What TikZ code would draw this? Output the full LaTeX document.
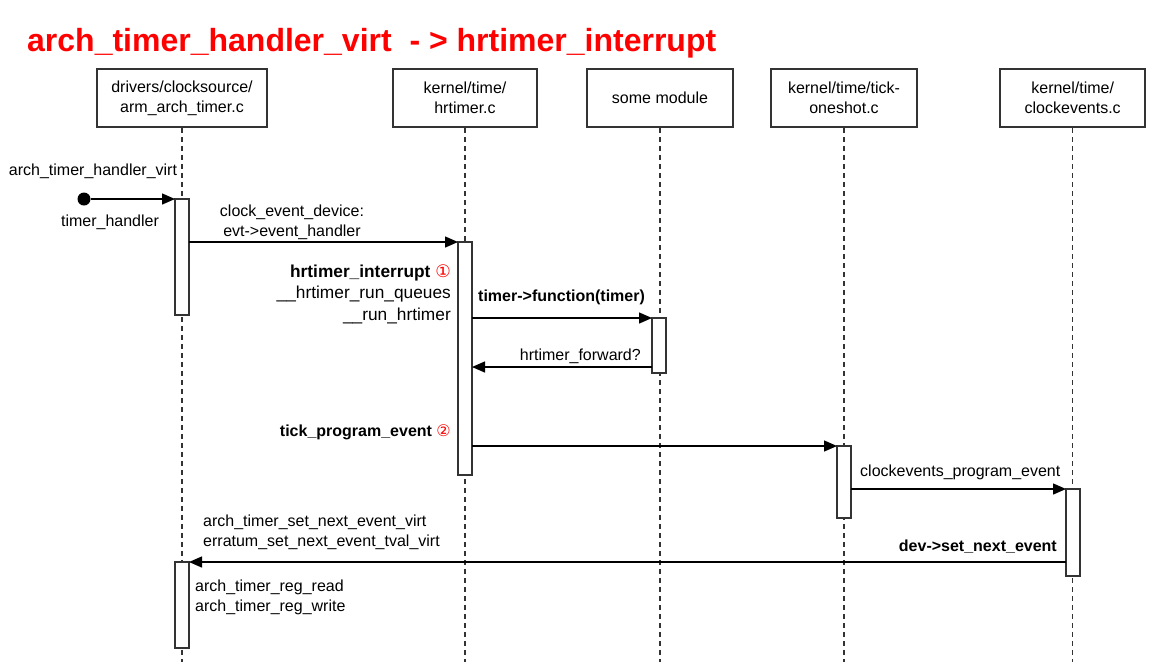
\documentclass[tikz,border=0pt]{standalone}
\usepackage{fontspec}
\setmainfont{Liberation Sans}
\newfontfamily\circfont{DejaVu Sans}
\usepackage{tikz}
\usetikzlibrary{positioning, arrows.meta}
\tikzstyle{msg} = [line width=1.4pt,-{Triangle[length=13pt,width=11pt]}]

\begin{document}
\begin{tikzpicture}[
        x=1pt, y=-1pt,
        every node/.style={font=\fontsize{16}{20}\selectfont, inner sep=0pt},
        lifebox/.style={rectangle, minimum height=58pt, align=center, draw=black!80, line width=1.5pt, fill=white},
        bar/.style={rectangle, minimum width=14pt, outer sep=0pt, draw=black!80, line width=1.5pt, fill=white},
        life/.style={line width=1.5pt, dash pattern=on 5pt off 4pt, black!80}
    ]

    \useasboundingbox (0,0) rectangle (1155,662);
    \coordinate (bottom) at (0,662);

    % Title
    \node[anchor=west, text=red, font=\fontsize{32}{38}\selectfont\bfseries] (title) at (27,43)
        {arch\_timer\_handler\_virt\ \ - > hrtimer\_interrupt};

    % Lifelines
    \node (b1) [lifebox, minimum width=170pt] at (182,98) {drivers/clocksource/\\arm\_arch\_timer.c};
    \node (b2) [lifebox, minimum width=144pt] at (465,98) {kernel/time/\\hrtimer.c};
    \node (b3) [lifebox, minimum width=146pt] at (660,98) {some module};
    \node (b4) [lifebox, minimum width=146pt] at (844,98) {kernel/time/tick-\\oneshot.c};
    \node (b5) [lifebox, minimum width=145pt] at (1072.7,98) {kernel/time/\\clockevents.c};

    \foreach \b in {b1,b2,b3,b4,b5}
        \draw[life] (\b.south) -- (\b.south |- bottom);

    % Activations
    \node (a1) [bar, minimum height=116pt] at (182,257) {};
    \node (a2) [bar, minimum height=233pt] at (465,358.5) {};
    \node (a3) [bar, minimum height=55pt] at (659,345.5) {};
    \node (a4) [bar, minimum height=72pt] at (844,482) {};
    \node (a5) [bar, minimum height=87pt] at (1073,532.5) {};
    \node (a6) [bar, minimum height=86pt] at (182,605) {};

    % Entry point
    \node (start) [circle, fill=black, minimum size=13pt] at (84,199) {};
    \node (entry) at (93,171) {arch\_timer\_handler\_virt};
    \node (handler) at (110,222) {timer\_handler};

    % Labels
    \node (evt) [align=center] at (292,222) {clock\_event\_device:\\evt->event\_handler};
    \node (irq) [anchor=east, align=right, font=\fontsize{17.3}{21.5}\selectfont] at (451,294)
        {\textbf{hrtimer\_interrupt} {\circfont\textcolor{red}{①}}\\\_\_hrtimer\_run\_queues\\\_\_run\_hrtimer};
    \node (func) [anchor=west, font=\fontsize{16}{20}\selectfont\bfseries] at (478,297) {timer->function(timer)};
    \node (fwd) [anchor=east] at (641,356) {hrtimer\_forward?};
    \node (tick) [anchor=east] at (451,432) {\textbf{tick\_program\_event} {\circfont\textcolor{red}{②}}};
    \node (prog) [anchor=west] at (860,472) {clockevents\_program\_event};
    \node (setnext) [anchor=east, font=\fontsize{16}{20}\selectfont\bfseries] at (1057,547) {dev->set\_next\_event};
    \node (virt) [anchor=west, align=left] at (203,532) {arch\_timer\_set\_next\_event\_virt\\erratum\_set\_next\_event\_tval\_virt};
    \node (reg) [anchor=west, align=left] at (195,597) {arch\_timer\_reg\_read\\arch\_timer\_reg\_write};

    % Arrows
    \coordinate (ret) at ([yshift=6pt]a3.south west);
    \draw [msg] (start) -- (a1.north west);
    \draw [msg] (a1.east |- a2.north) -- (a2.north west);
    \draw [msg] (a2.east |- a3.north) -- (a3.north west);
    \draw [msg] (ret) -- (a2.east |- ret);
    \draw [msg] (a2.east |- a4.north) -- (a4.north west);
    \draw [msg] (a4.east |- a5.north) -- (a5.north west);
    \draw [msg] (a5.west |- a6.north) -- (a6.north east);

\end{tikzpicture}
\end{document}
